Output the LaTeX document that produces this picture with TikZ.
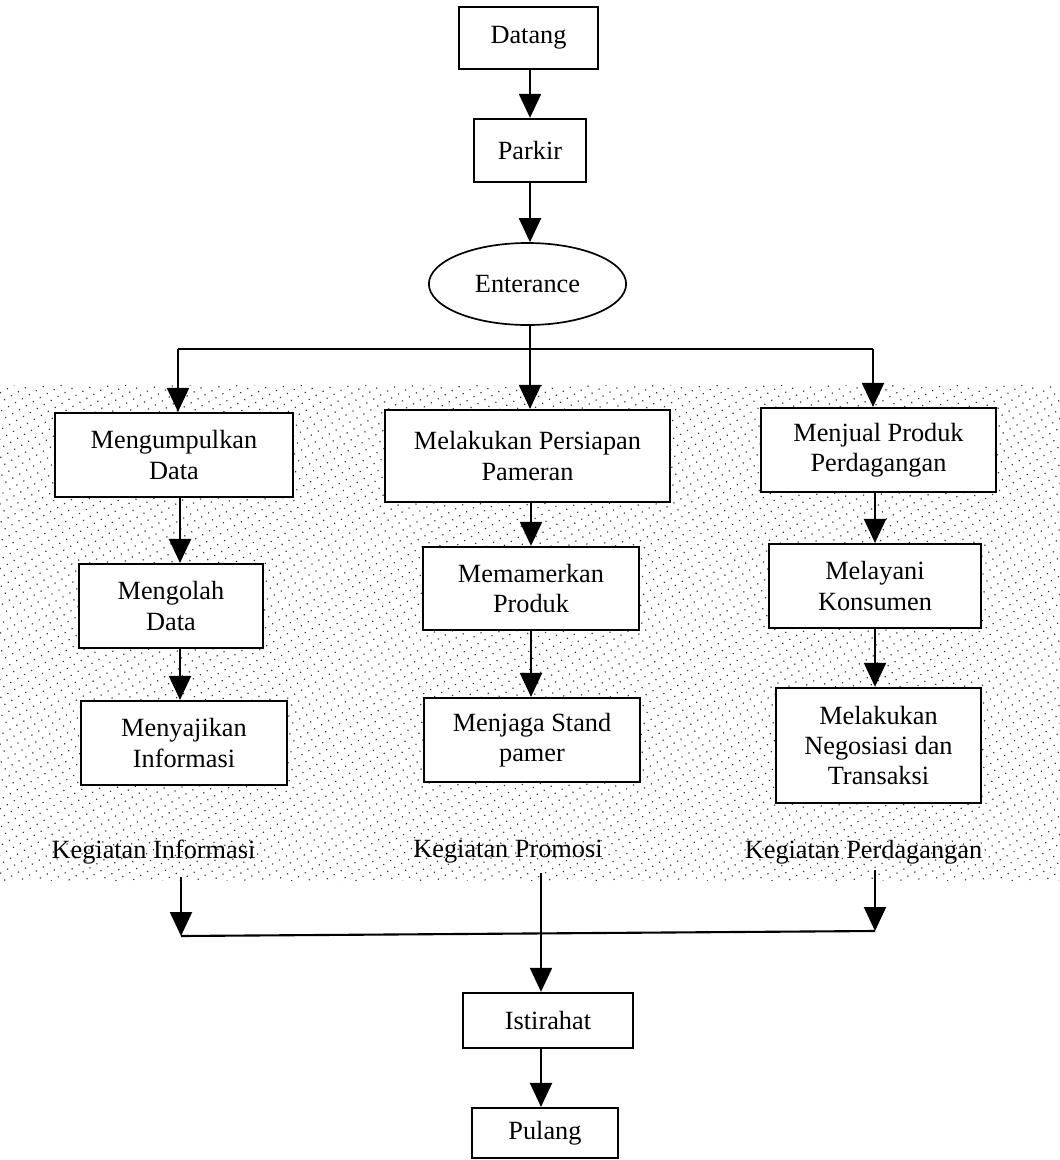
\documentclass[tikz,border=0pt]{standalone}
\usepackage{fontspec}
\setmainfont{Liberation Serif}
\usetikzlibrary{arrows.meta,shapes.geometric,patterns.meta}

\tikzset{
  box/.style={draw, line width=1.5pt, fill=white, align=center, inner sep=0pt,
    font=\fontsize{18.7}{21.5}\selectfont},
  oval/.style={box, ellipse, line width=1.2pt},
  lbl/.style={font=\fontsize{18.7}{21.5}\selectfont, inner sep=0pt},
  flow/.style={line width=1.5pt, -{Triangle[length=6mm, width=5.5mm]}},
  link/.style={line width=1.5pt}
}

\begin{document}
\begin{tikzpicture}[x=0.025cm, y=-0.025cm]
            \useasboundingbox (0,0) rectangle (1060,1160);
            % dotted area of the three activities
            \fill[pattern={Dots[distance=2mm, radius=0.6pt, angle=30]}, pattern color=black!80]
                (0,385) rectangle (1060,880);

            \node[box, anchor=center, minimum width=3.48cm, minimum height=1.55cm] at (528.5,38) (datang) {Datang};
            \node[box, anchor=center, minimum width=2.8cm, minimum height=1.58cm] at (530,150.5) (parkir) {Parkir};
            \node[oval, anchor=center, minimum width=4.93cm, minimum height=2.05cm] at (527.5,284) (enterance) {Enterance};

            \node[box, anchor=center, minimum width=5.95cm, minimum height=2.1cm] at (174,455) (mengumpulkan) {Mengumpulkan\\Data};
            \node[box, anchor=center, minimum width=4.6cm, minimum height=2.1cm] at (171,606) (mengolah) {Mengolah\\Data};
            \node[box, anchor=center, minimum width=5.15cm, minimum height=2.1cm] at (184,743) (menyajikan) {Menyajikan\\Informasi};

            \node[box, anchor=center, minimum width=7.13cm, minimum height=2.3cm] at (527.5,456) (persiapan) {Melakukan Persiapan\\Pameran};
            \node[box, anchor=center, minimum width=5.4cm, minimum height=2.08cm] at (531,588.5) (memamerkan) {Memamerkan\\Produk};
            \node[box, anchor=center, minimum width=5.4cm, minimum height=2.1cm] at (532,740) (menjaga) {Menjaga Stand\\pamer};

            \node[box, anchor=center, minimum width=5.88cm, minimum height=2.1cm] at (878.5,450) (menjual) {Menjual Produk\\Perdagangan};
            \node[box, anchor=center, minimum width=5.3cm, minimum height=2.1cm] at (875,586) (melayani) {Melayani\\Konsumen};
            \node[box, anchor=center, minimum width=5.13cm, minimum height=2.88cm] at (878.5,745.5) (negosiasi) {Melakukan\\Negosiasi dan\\Transaksi};

            \node[lbl, anchor=center] at (153.5,852) (kinfo) {Kegiatan Informasi};
            \node[lbl, anchor=center] at (508,852) (kpromosi) {Kegiatan Promosi};
            \node[lbl, anchor=center] at (863.5,852) (kdagang) {Kegiatan Perdagangan};

            \node[box, anchor=center, minimum width=4.25cm, minimum height=1.38cm] at (548,1020.5) (istirahat) {Istirahat};
            \node[box, anchor=center, minimum width=3.65cm, minimum height=1.25cm] at (545,1133) (pulang) {Pulang};

            % branching points
            \coordinate (bagiL) at (178,349);
            \coordinate (bagiR) at (873,349);
            \coordinate (colA) at (180,0);
            \coordinate (colB) at (531,0);
            \coordinate (colC) at (875,0);
            \coordinate (infoOut) at (181,877);
            \coordinate (infoEnd) at (181,936);
            \coordinate (dagangOut) at (875,870);
            \coordinate (dagangEnd) at (875,931);
            \coordinate (promOut) at (541,873);

            \draw[flow] (datang.south -| parkir) -- (parkir.north);
            \draw[flow] (parkir.south) -- (parkir.south |- enterance.north);
            \draw[link] (bagiL) -- (bagiR);
            \draw[flow] (enterance.south -| parkir) -- (persiapan.north -| parkir);
            \draw[flow] (bagiL) -- (mengumpulkan.north -| bagiL);
            \draw[flow] (bagiR) -- (menjual.north -| bagiR);

            \draw[flow] (mengumpulkan.south -| colA) -- (mengolah.north -| colA);
            \draw[flow] (mengolah.south -| colA) -- (menyajikan.north -| colA);
            \draw[flow] (persiapan.south -| colB) -- (memamerkan.north -| colB);
            \draw[flow] (memamerkan.south -| colB) -- (menjaga.north -| colB);
            \draw[flow] (menjual.south -| colC) -- (melayani.north -| colC);
            \draw[flow] (melayani.south -| colC) -- (negosiasi.north -| colC);

            \draw[flow] (infoOut) -- (infoEnd);
            \draw[flow] (dagangOut) -- (dagangEnd);
            \draw[link] (infoEnd) -- (dagangEnd);
            \draw[flow] (promOut) -- (istirahat.north -| promOut);
            \draw[flow] (istirahat.south -| promOut) -- (pulang.north -| promOut);
        \end{tikzpicture}
\end{document}
